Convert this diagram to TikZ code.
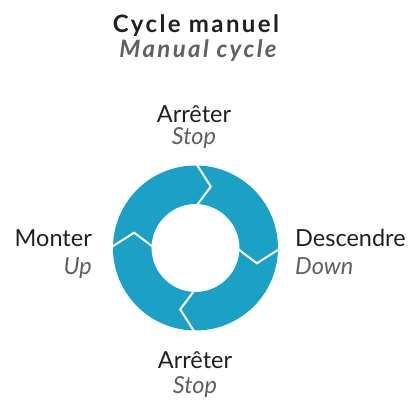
\documentclass[tikz,border=0pt]{standalone}
\usepackage{fontspec}
\setmainfont{Lato}
\definecolor{ringblue}{HTML}{1BA1C5}
\definecolor{textdark}{HTML}{231F20}
\definecolor{textgrey}{HTML}{5F6062}
\tikzset{
  fr/.style={font=\fontsize{23.5}{26}\selectfont, text=textdark, inner sep=0pt},
  en/.style={font=\fontsize{23.5}{26}\selectfont\itshape, text=textgrey, inner sep=0pt},
  titlefr/.style={font=\fontsize{24}{26}\selectfont\bfseries\addfontfeature{LetterSpace=10}, text=textdark, inner sep=0pt},
  titleen/.style={font=\fontsize{24}{26}\selectfont\bfseries\itshape\addfontfeature{LetterSpace=10}, text=textgrey, inner sep=0pt},
  joint/.style={draw=white, line width=2pt, line join=miter}
}
\begin{document}
\begin{tikzpicture}[x=1pt,y=1pt]

\newcommand\ROUT{82.5}
\newcommand\RIN{44}
\newcommand\RMID{63.25}

  \useasboundingbox (0,0) rectangle (417,401);
  \coordinate (c) at (195.5,153);

  %% ring
  \fill[ringblue, even odd rule] (c) circle[radius=\ROUT pt] (c) circle[radius=\RIN pt];

  %% joints between the four arrows
  \foreach \a in {90,0,-90,180}
    \draw[joint] ([shift={(\a:\ROUT+3)}]c) -- ([shift={(\a-14:\RMID)}]c) -- ([shift={(\a:\RIN-3)}]c);

  %% title
  \node[titlefr, anchor=base] (title) at (196,368) {Cycle manuel};
  \node[titleen, anchor=base] (subtitle) at (198,343) {Manual cycle};

  %% labels
  \node[fr, anchor=base] (stopfr) at (194,278) {Arrêter};
  \node[en, anchor=base] (stopen) at (194,256) {Stop};
  \node[fr, anchor=base east] (upfr) at (92,154) {Monter};
  \node[en, anchor=base east] (upen) at (92,126) {Up};
  \node[fr, anchor=base west] (downfr) at (295,154) {Descendre};
  \node[en, anchor=base west] (downen) at (295,126) {Down};
  \node[fr, anchor=base] (stopfrb) at (195,32) {Arrêter};
  \node[en, anchor=base] (stopenb) at (195,8) {Stop};

\end{tikzpicture}
\end{document}
